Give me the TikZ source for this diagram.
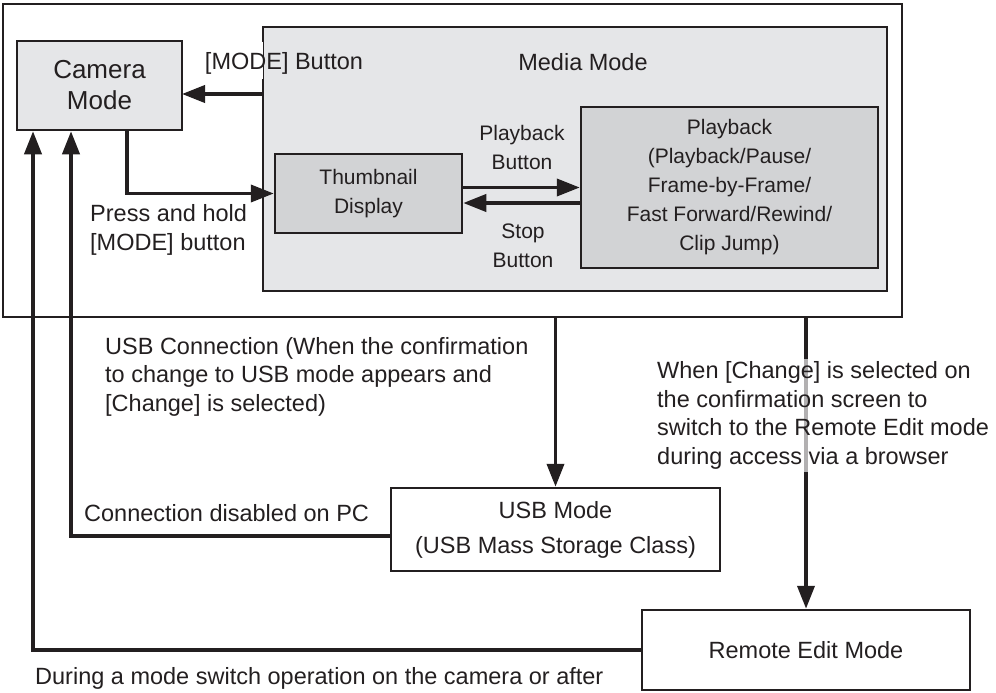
\documentclass[tikz,border=0pt]{standalone}
\usepackage{fontspec}
\setmainfont{Liberation Sans}
\usetikzlibrary{arrows.meta,positioning}
\definecolor{lightfill}{HTML}{E5E6E8}
\definecolor{darkfill}{HTML}{D2D3D5}
\definecolor{ink}{HTML}{231F20}

\begin{document}
\begin{tikzpicture}[x=1pt,y=-1pt]

	\tikzstyle{box} = [
		draw=ink,
		line width=2.5pt,
		inner sep=0pt,
		text=ink,
		align=center,
		font=\fontsize{23.5}{35}\selectfont
	]
	\tikzstyle{lightbox} = [box, fill=lightfill]
	\tikzstyle{darkbox} = [box, fill=darkfill, font=\fontsize{21}{29}\selectfont]
	\tikzstyle{lbl} = [text=ink, inner sep=0pt, font=\fontsize{23.5}{28.5}\selectfont]
	\tikzstyle{smalllbl} = [lbl, align=center, font=\fontsize{21}{29}\selectfont]
	\tikzstyle{arr} = [
		draw=ink,
		line width=3.8pt,
		-{Triangle[length=23pt,width=17pt]}
	]

	\useasboundingbox (0,0) rectangle (996,693);

	% boxes
	\node (main) [box, minimum width=899pt, minimum height=313pt] at (452.5,160.5) {};
	\node (camera) [lightbox, minimum width=165pt, minimum height=89pt,
		font=\fontsize{26}{31}\selectfont] at (99.5,85.5) {Camera\\Mode};
	\node (media) [lightbox, minimum width=624pt, minimum height=264pt] at (575,159) {};
	\node (mediatitle) [lbl] at (583,62) {Media Mode};
	\node (thumb) [darkbox, minimum width=187pt, minimum height=79pt] at (368.5,193.5) {Thumbnail\\Display};
	\node (play) [darkbox, minimum width=297pt, minimum height=161pt] at (729.5,187.5)
		{Playback\\(Playback/Pause/\\Frame-by-Frame/\\Fast Forward/Rewind/\\Clip Jump)};
	\node (usb) [box, minimum width=329pt, minimum height=83pt] at (555.5,529.5)
		{USB Mode\\(USB Mass Storage Class)};
	\node (remote) [box, minimum width=328pt, minimum height=80pt] at (806,650) {Remote Edit Mode};

	% gap in the media box edge
	\draw [white, line width=3.4pt] ([yshift=-16pt]media.north west) -- ([yshift=-53pt]media.north west);
	\node (modelbl) [lbl] at (284,63) {[MODE] Button};

	% arrows inside
	\coordinate (modein) at (182,94);
	\draw [arr] (media.west |- modein) -- (modein);
	\draw [arr] ([xshift=27.5pt]camera.south) |- (thumb.west);
	\draw [arr] (thumb.east |- play.west) -- (play.west);
	\coordinate (stop) at ([yshift=-15.5pt]play.west);
	\draw [arr] (stop) -- (stop -| thumb.east);

	\node (holdlbl) [lbl, anchor=west, align=left] at (90,230) {Press and hold\\{}[MODE] button};
	\node (playlbl) [smalllbl] at (522,147.5) {Playback\\Button};
	\node (stoplbl) [smalllbl] at (523,245.5) {Stop\\Button};

	% arrows outside
	\draw [arr] (usb.north |- main.south) -- (usb.north);
	\draw [arr] (remote.north |- main.south) -- (remote.north);
	\draw [arr] ([yshift=-6.5pt]usb.west) -| ([xshift=-28.5pt]camera.south);
	\draw [arr] (remote.west) -| ([xshift=-66.5pt]camera.south);

	\node (usblbl) [lbl, anchor=west, align=left] at (105,376.5)
		{USB Connection (When the confirmation\\to change to USB mode appears and\\{}[Change] is selected)};
	\node (pclbl) [lbl, anchor=west] at (84,513) {Connection disabled on PC};
	\node (remotelbl) [lbl, anchor=west, align=left, inner sep=3pt, fill=white,
		fill opacity=0.65, text opacity=1] at (654,415.5)
		{When [Change] is selected on\\the confirmation screen to\\switch to the Remote Edit mode\\during access via a browser};
	\node (duringlbl) [lbl, anchor=west] at (35,678) {During a mode switch operation on the camera or after};

\end{tikzpicture}
\end{document}
